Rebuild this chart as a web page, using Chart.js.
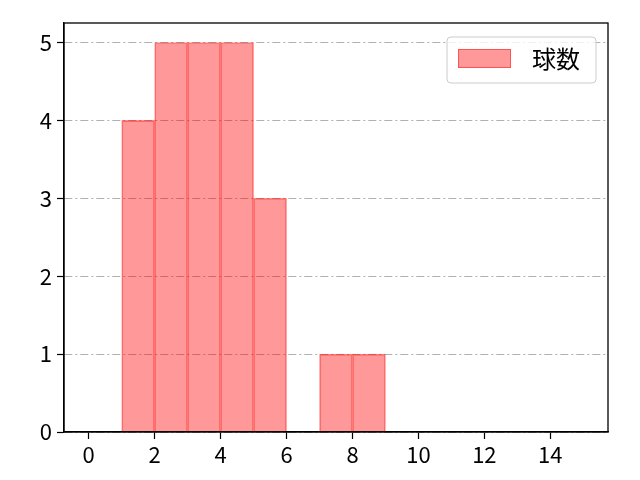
<!DOCTYPE html>
<html>
<head>
<meta charset="utf-8">
<script src="https://cdn.jsdelivr.net/npm/chart.js@4.4.0/dist/chart.umd.min.js"></script>
<style>
  html, body { margin:0; padding:0; background:#fff; }
  #wrap { width:640px; height:480px; }
</style>
</head>
<body>
<div id="wrap"><canvas id="c" width="640" height="480"></canvas></div>
<script>
// histogram bins (left edge) and counts
const binStarts = [0, 1, 2, 3, 4, 5, 6, 7, 8, 9, 10, 11, 12, 13, 14];
const counts    = [0, 4, 5, 5, 5, 3, 0, 1, 1, 0, 0, 0, 0, 0, 0];
const seriesLabel = '球数';
const xTicks = [0, 2, 4, 6, 8, 10, 12, 14];
const yTicks = [0, 1, 2, 3, 4, 5];

const FONT = '"Noto Sans CJK JP", "Noto Sans", sans-serif';
const FILL = 'rgba(255,0,0,0.4)';
const EDGE = 'rgba(255,0,0,0.45)';

const points = binStarts.map((b, i) => ({ x: b + 0.5, y: counts[i] || null }));

// frame on top/right + legend box, like the matplotlib axes
const framePlugin = {
  id: 'frame',
  afterDraw(chart){
    const { ctx, chartArea: a } = chart;
    ctx.save();
    ctx.strokeStyle = '#000';
    ctx.lineWidth = 1.3;
    ctx.strokeRect(a.left, a.top, a.right - a.left, a.bottom - a.top);

    // legend
    const bx = a.right - 161, by = a.top + 14, bw = 149, bh = 46;
    ctx.beginPath();
    ctx.roundRect(bx, by, bw, bh, 4);
    ctx.fillStyle = 'rgba(255,255,255,0.8)';
    ctx.fill();
    ctx.strokeStyle = '#cccccc';
    ctx.lineWidth = 1;
    ctx.stroke();
    ctx.fillStyle = FILL;
    ctx.fillRect(bx + 11, by + 12, 53, 19);
    ctx.strokeStyle = EDGE;
    ctx.strokeRect(bx + 11.5, by + 12.5, 52, 18);
    ctx.fillStyle = '#000';
    ctx.font = '24px ' + FONT;
    ctx.textBaseline = 'middle';
    ctx.fillText(chart.data.datasets[0].label, bx + 85, by + 22);
    ctx.restore();
  }
};

new Chart(document.getElementById('c'), {
  type: 'bar',
  data: {
    datasets: [{
      label: seriesLabel,
      data: points,
      backgroundColor: FILL,
      borderColor: EDGE,
      borderWidth: 1,
      barPercentage: 1,
      categoryPercentage: 1
    }]
  },
  options: {
    responsive: false,
    animation: false,
    layout: { padding: { top: 23, right: 32, left: 0, bottom: 0 } },
    plugins: { legend: { display: false }, tooltip: { enabled: false } },
    scales: {
      x: {
        type: 'linear',
        offset: false,
        min: -0.75,
        max: 15.75,
        afterBuildTicks: s => { s.ticks = xTicks.map(v => ({ value: v })); },
        afterFit: s => { s.height = 48; },
        grid: { offset: false, drawOnChartArea: false, tickLength: 7, tickColor: '#000', tickWidth: 1.2 },
        border: { display: true, color: '#000', width: 1.3 },
        ticks: { color: '#000', padding: 2, maxRotation: 0, font: { family: FONT, size: 22 } }
      },
      y: {
        min: 0,
        max: 5.25,
        afterBuildTicks: s => { s.ticks = yTicks.map(v => ({ value: v })); },
        afterFit: s => { s.width = 64; },
        grid: {
          color: '#b0b0b0',
          lineWidth: 1,
          tickLength: 7,
          tickColor: '#000',
          tickWidth: 1.2,
          tickBorderDash: []
        },
        border: { display: true, color: '#000', width: 1.3, dash: [8, 3, 2, 3] },
        ticks: { color: '#000', padding: 5, font: { family: FONT, size: 22 } }
      }
    }
  },
  plugins: [framePlugin]
});
</script>
</body>
</html>
